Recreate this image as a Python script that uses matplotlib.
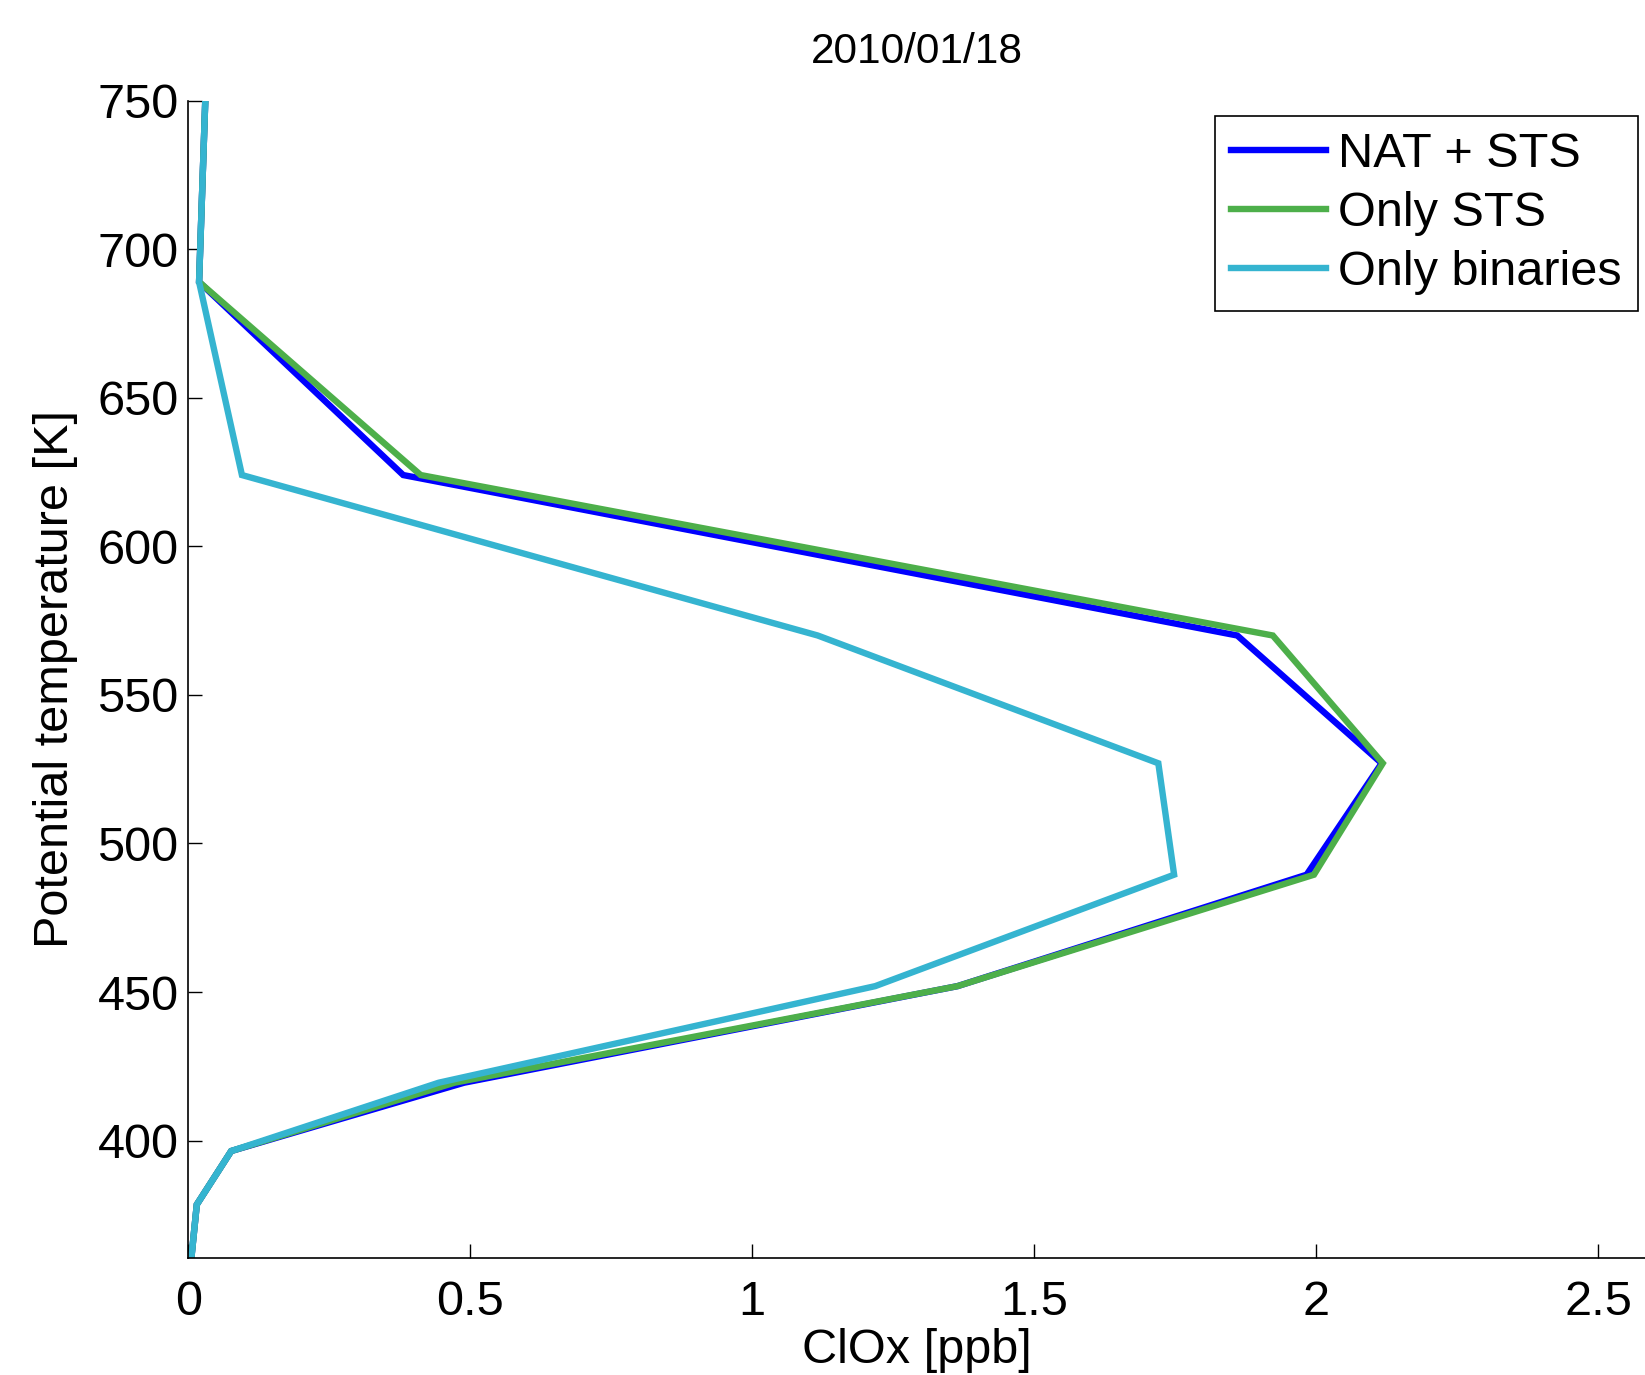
import matplotlib
matplotlib.use("Agg")
import matplotlib.pyplot as plt

plt.rcParams['font.family'] = ['Liberation Sans', 'DejaVu Sans']

theta = [750, 689, 624, 570, 527, 489.5, 452, 419.5, 396.5, 378.5, 358]
nat_sts = [0.030, 0.019, 0.381, 1.860, 2.116, 1.983, 1.364, 0.489, 0.076, 0.015, 0.004]
only_sts = [0.030, 0.019, 0.412, 1.923, 2.118, 1.996, 1.364, 0.472, 0.076, 0.015, 0.004]
only_bin = [0.030, 0.019, 0.095, 1.116, 1.720, 1.748, 1.218, 0.444, 0.076, 0.015, 0.004]

labels = ['NAT + STS', 'Only STS', 'Only binaries']
colors = ['#0000FF', '#4DAF4A', '#35B4D0']
xticks = [0, 0.5, 1, 1.5, 2, 2.5]
xticklabels = ['0', '0.5', '1', '1.5', '2', '2.5']
yticks = [400, 450, 500, 550, 600, 650, 700, 750]

fig = plt.figure(figsize=(16.45, 13.75), dpi=100)
ax = fig.add_axes([0.1145, 0.0853, 0.8855, 0.8415])

for xs, lab, c in zip([nat_sts, only_sts, only_bin], labels, colors):
    ax.plot(xs, theta, color=c, lw=4.6, label=lab, solid_joinstyle='miter')

ax.set_xlim(0, 2.583)
ax.set_ylim(360.6, 750)
ax.set_xticks(xticks)
ax.set_xticklabels(xticklabels)
ax.set_yticks(yticks)
ax.tick_params(direction='in', length=10, width=1, labelsize=35)
ax.tick_params(axis='x', pad=16)
ax.tick_params(axis='y', pad=7)
ax.spines['top'].set_visible(False)
ax.spines['right'].set_visible(False)
for s in ['left', 'bottom']:
    ax.spines[s].set_linewidth(1.2)

ax.set_title('2010/01/18', fontsize=30.5, pad=27)
ax.set_xlabel('ClOx [ppb]', fontsize=35, labelpad=2)
ax.set_ylabel('Potential temperature [K]', fontsize=35, labelpad=14)

leg = ax.legend(loc='upper right', bbox_to_anchor=(1638/1645, 1 - 116/1375),
                bbox_transform=fig.transFigure, borderaxespad=0, fontsize=35,
                handlelength=1.95, handletextpad=0.25, labelspacing=0.29,
                fancybox=False, framealpha=1, edgecolor='black',
                borderpad=0.33)
leg.get_frame().set_linewidth(1.2)
for h in leg.get_lines():
    h.set_linewidth(4.6)

fig.savefig('out.png', dpi=100)
